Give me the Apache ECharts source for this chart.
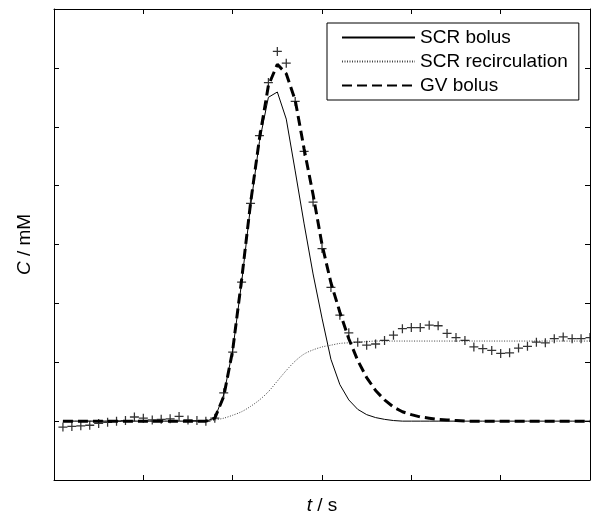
<!DOCTYPE html>
<html>
<head>
<meta charset="utf-8">
<script src="https://cdn.jsdelivr.net/npm/echarts@6/dist/echarts.min.js"></script>
<style>
html,body{margin:0;padding:0;background:#fff;}
#chart{width:591px;height:515px;}
</style>
</head>
<body>
<div id="chart"></div>
<script>
const time = [1,2,3,4,5,6,7,8,9,10,11,12,13,14,15,16,17,18,19,20,21,22,23,24,25,26,27,28,29,30,31,32,33,34,35,36,37,38,39,40,41,42,43,44,45,46,47,48,49,50,51,52,53,54,55,56,57,58,59,60];
const measured = [-0.1,-0.09,-0.08,-0.07,-0.04,-0.02,0.0,0.01,0.07,0.05,0.02,0.03,0.04,0.08,0.02,0.01,0.0,0.05,0.48,1.17,2.36,3.7,4.85,5.75,6.28,6.08,5.43,4.58,3.72,2.93,2.27,1.8,1.5,1.34,1.29,1.31,1.37,1.46,1.57,1.59,1.59,1.63,1.62,1.49,1.42,1.37,1.26,1.23,1.2,1.15,1.16,1.24,1.27,1.34,1.33,1.4,1.43,1.4,1.4,1.42];
const scrBolus = [0,0,0,0,0,0,0,0,0,0,0,0,0,0,0,0,0,0.05,0.45,1.2,2.35,3.65,4.75,5.5,5.59,5.13,4.25,3.35,2.5,1.75,1.05,0.62,0.36,0.2,0.11,0.06,0.03,0.01,0,0,0,0,0,0,0,0,0,0,0,0,0,0,0,0,0,0,0,0,0,0];
const scrRecirc = [0,0,0,0,0,0,0,0,0,0,0,0,0,0,0,0,0,0.02,0.05,0.1,0.16,0.25,0.36,0.5,0.68,0.86,1.02,1.14,1.21,1.26,1.29,1.32,1.33,1.34,1.35,1.36,1.36,1.36,1.36,1.36,1.36,1.36,1.36,1.36,1.36,1.36,1.36,1.36,1.36,1.36,1.36,1.36,1.36,1.36,1.36,1.36,1.36,1.36,1.36,1.36];
const gvBolus = [0,0,0,0,0,0,0,0,0,0,0,0,0,0,0,0,0,0.05,0.42,1.2,2.4,3.7,4.8,5.7,6.06,5.9,5.45,4.62,3.85,3.0,2.35,1.85,1.4,1.03,0.74,0.52,0.36,0.24,0.16,0.11,0.07,0.05,0.03,0.02,0.01,0,0,0,0,0,0,0,0,0,0,0,0,0,0,0];
const seriesNames = ['SCR bolus','SCR recirculation','GV bolus'];
const xLabel = '{i|t} / s';
const yLabel = '{i|C} / mM';

const pair = arr => time.map((t, i) => [t, arr[i]]);
const FONT = 'Liberation Sans, Arial, sans-serif';
const axisCommon = {
  axisLine: {show: true, onZero: false, lineStyle: {color: '#000', width: 1}},
  axisTick: {show: true, inside: true, length: 5, lineStyle: {color: '#000', width: 1}},
  axisLabel: {show: false},
  splitLine: {show: false}
};
const xBase = {type: 'value', min: 0, max: 60, interval: 10};
const yBase = {type: 'value', min: -1, max: 7, interval: 1};

const chart = echarts.init(document.getElementById('chart'), null, {renderer: 'canvas'});
chart.setOption({
  animation: false,
  backgroundColor: '#fff',
  grid: {left: 54, top: 9, right: 1, bottom: 35, containLabel: false, outerBoundsMode: 'none'},
  legend: {
    data: seriesNames,
    orient: 'vertical',
    left: 327,
    top: 23,
    itemWidth: 73,
    itemHeight: 14,
    itemGap: 5,
    padding: [5, 11, 5, 14],
    borderColor: '#000',
    borderWidth: 1,
    borderRadius: 0,
    backgroundColor: '#fff',
    selectedMode: false,
    itemStyle: {color: 'transparent', borderColor: 'transparent', borderWidth: 0, opacity: 0},
    textStyle: {fontFamily: FONT, fontSize: 19, color: '#000'}
  },
  xAxis: [
    Object.assign({}, xBase, axisCommon, {
      position: 'bottom',
      name: xLabel,
      nameLocation: 'middle',
      nameGap: 16,
      nameTextStyle: {fontFamily: FONT, fontSize: 19, color: '#000', rich: {i: {fontStyle: 'italic', fontFamily: FONT, fontSize: 19, color: '#000'}}}
    }),
    Object.assign({}, xBase, axisCommon, {position: 'top'})
  ],
  yAxis: [
    Object.assign({}, yBase, axisCommon, {
      position: 'left',
      name: yLabel,
      nameLocation: 'middle',
      nameGap: 20,
      nameRotate: 90,
      nameTextStyle: {fontFamily: FONT, fontSize: 19, color: '#000', rich: {i: {fontStyle: 'italic', fontFamily: FONT, fontSize: 19, color: '#000'}}}
    }),
    Object.assign({}, yBase, axisCommon, {position: 'right'})
  ],
  series: [
    {
      name: 'SCR bolus', type: 'line', data: pair(scrBolus), symbol: 'none',
      lineStyle: {color: '#000', width: 1, type: 'solid'}, itemStyle: {color: '#000'}, z: 2
    },
    {
      name: 'SCR recirculation', type: 'line', data: pair(scrRecirc), symbol: 'none', smooth: 0.3,
      lineStyle: {color: '#444', width: 1, type: [1, 1.5]}, itemStyle: {color: '#444'}, z: 2
    },
    {
      name: 'GV bolus', type: 'line', data: pair(gvBolus), symbol: 'none',
      lineStyle: {color: '#000', width: 3, type: [10, 5]}, itemStyle: {color: '#000'}, z: 3
    },
    {
      name: 'measured', type: 'scatter', data: pair(measured),
      symbol: 'path://M0,4.3H10V5.7H0Z M4.3,0H5.7V10H4.3Z',
      symbolSize: 9,
      itemStyle: {color: '#000'}, z: 4
    }
  ]
});
</script>
</body>
</html>
